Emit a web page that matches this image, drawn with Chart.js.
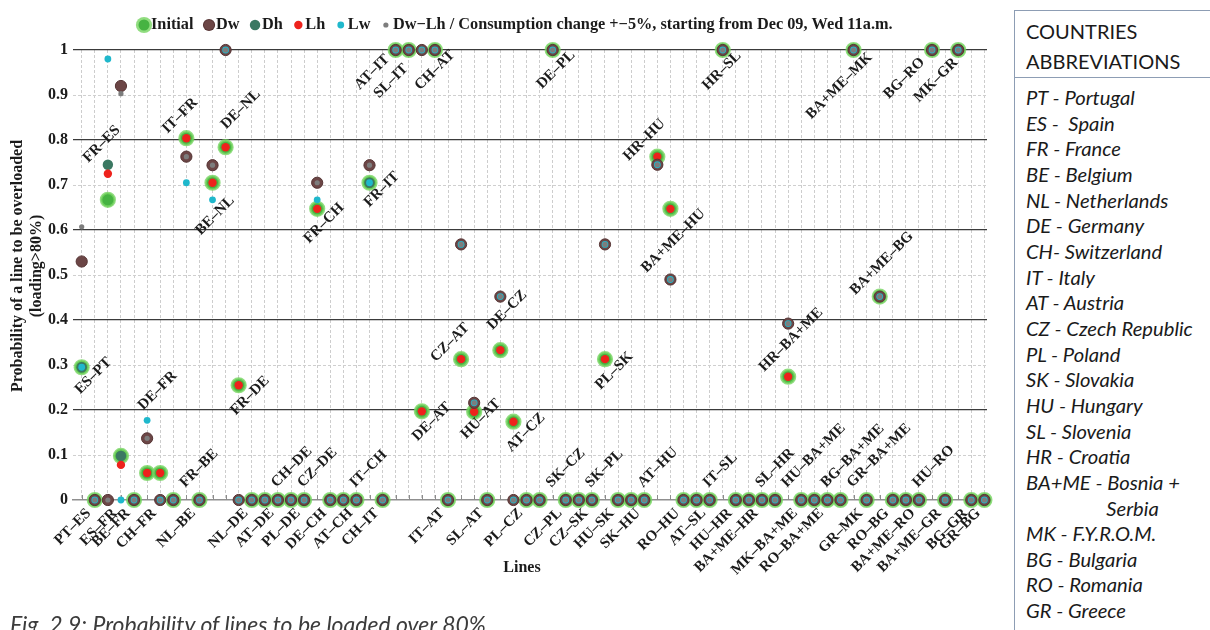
<!DOCTYPE html>
<html>
<head>
<meta charset="utf-8">
<script src="https://cdn.jsdelivr.net/npm/chart.js@4.4.1/dist/chart.umd.min.js"></script>
<style>
  html, body { margin: 0; padding: 0; background: #fff; width: 1210px; height: 630px; overflow: hidden; }
  #plot { position: absolute; left: 0; top: 0; }
  #caption { position: absolute; left: 10px; top: 613px; font: italic 23px Lato, sans-serif; line-height: 23px; color: #3c3c3c; white-space: nowrap; }
  #panel { position: absolute; left: 1014px; top: 10px; width: 200px; height: 630px; border-left: 1.5px solid #8d9db4; border-top: 1.5px solid #8d9db4; font-family: Lato, sans-serif; color: #1a1a1a; }
  #head { position: absolute; left: 0; top: 0; width: 100%; height: 66px; border-bottom: 1.5px solid #8d9db4; }
  #head div { position: absolute; left: 11px; font-size: 20px; line-height: 30px; }
  #list { position: absolute; left: 11px; top: 74px; font-style: italic; font-size: 20.2px; line-height: 25.65px; white-space: pre; }
</style>
</head>
<body>
<canvas id="plot" width="1005" height="630"></canvas>
<div id="caption">Fig. 2.9: Probability of lines to be loaded over 80%</div>
<div id="panel">
  <div id="head"><div style="top:5px">COUNTRIES</div><div style="top:35px">ABBREVIATIONS</div></div>
  <div id="list"></div>
</div>
<script>
// Interconnection lines, in plotting order along the x axis
const categories = ['ES–PT','PT–ES','FR–ES','ES–FR','BE–FR','DE–FR','CH–FR','FR–BE','IT–FR','NL–BE',
  'BE–NL','DE–NL','FR–DE','NL–DE','CH–DE','AT–DE','CZ–DE','PL–DE','FR–CH','DE–CH',
  'IT–CH','AT–CH','FR–IT','CH–IT','AT–IT','SL–IT','DE–AT','CH–AT','IT–AT','CZ–AT',
  'HU–AT','SL–AT','DE–CZ','AT–CZ','PL–CZ','SK–CZ','DE–PL','CZ–PL','SK–PL','CZ–SK',
  'PL–SK','HU–SK','AT–HU','SK–HU','HR–HU','BA+ME–HU','RO–HU','IT–SL','AT–SL','HR–SL',
  'HU–HR','SL–HR','BA+ME–HR','HU–BA+ME','HR–BA+ME','MK–BA+ME','BG–BA+ME','RO–BA+ME','GR–BA+ME','BA+ME–MK',
  'GR–MK','BA+ME–BG','RO–BG','HU–RO','BA+ME–RO','BG–RO','BA+ME–GR','MK–GR','BG–GR','GR–BG'];

// Probability of loading > 80% for each scenario
const initial = [0.295,0,0.667,0.098,0,0.06,0.06,0,0.804,0,
  0.705,0.784,0.255,0,0,0,0,0,0.647,0,
  0,0,0.705,0,1,1,0.197,1,0,0.313,
  0.196,0,0.333,0.174,0,0,1,0,0,0,
  0.313,0,0,0,0.763,0.647,0,0,0,1,
  0,0,0,0,0.274,0,0,0,0,1,
  0,0.452,0,0,0,1,0,1,0,0];
const dw = [0.53,0,0,0.92,0,0.137,0,0,0.763,0,
  0.744,1,0,0,0,0,0,0,0.705,0,
  0,0,0.744,0,1,1,1,1,0,0.568,
  0.216,0,0.452,0,0,0,1,0,0,0,
  0.568,0,0,0,0.745,0.49,0,0,0,1,
  0,0,0,0,0.392,0,0,0,0,1,
  0,0.452,0,0,0,1,0,1,0,0];
const dh = [0.295,0,0.745,0.098,0,0.137,0,0,0.763,0,
  0.744,1,0,0,0,0,0,0,0.705,0,
  0,0,0.705,0,1,1,1,1,0,0.568,
  0.216,0,0.452,0,0,0,1,0,0,0,
  0.568,0,0,0,0.745,0.49,0,0,0,1,
  0,0,0,0,0.392,0,0,0,0,1,
  0,0.452,0,0,0,1,0,1,0,0];
const lh = [0.53,0,0.725,0.078,0,0.06,0.06,0,0.804,0,
  0.705,0.784,0.255,0,0,0,0,0,0.647,0,
  0,0,0.744,0,1,1,0.197,1,0,0.313,
  0.196,0,0.333,0.174,0,0,1,0,0,0,
  0.313,0,0,0,0.763,0.647,0,0,0,1,
  0,0,0,0,0.274,0,0,0,0,1,
  0,0.452,0,0,0,1,0,1,0,0];
const lw = [0.295,0,0.98,0,0,0.177,0,0,0.705,0,
  0.667,1,0,0,0,0,0,0,0.667,0,
  0,0,0.705,0,1,1,1,1,0,0.568,
  0.216,0,0.452,0,0,0,1,0,0,0,
  0.568,0,0,0,0.745,0.49,0,0,0,1,
  0,0,0,0,0.392,0,0,0,0,1,
  0,0.452,0,0,0,1,0,1,0,0];
const dwLh = [0.607,0,0,0.903,0,0.137,0,0,0.763,0,
  0.744,1,0,0,0,0,0,0,0.705,0,
  0,0,0.744,0,1,1,1,1,0,0.568,
  0.216,0,0.452,0,0,0,1,0,0,0,
  0.568,0,0,0,0.745,0.49,0,0,0,1,
  0,0,0,0,0.392,0,0,0,0,1,
  0,0.452,0,0,0,1,0,1,0,0];

const yTicks = [0,0.1,0.2,0.3,0.4,0.5,0.6,0.7,0.8,0.9,1];
const legendNote = ' / Consumption change +−5%, starting from Dec 09, Wed 11a.m.';

const countries = ['PT - Portugal','ES -  Spain','FR - France','BE - Belgium','NL - Netherlands','DE - Germany',
  'CH- Switzerland','IT - Italy','AT - Austria','CZ - Czech Republic','PL - Poland','SK - Slovakia',
  'HU - Hungary','SL - Slovenia','HR - Croatia','BA+ME - Bosnia +','                 Serbia','MK - F.Y.R.O.M.',
  'BG - Bulgaria','RO - Romania','GR - Greece'];

// Where each line name is written: under the axis (b), above the axis (t) or next to its markers (p)
const labelSide = ['p','b','p','b','b','p','b','t','p','b',
  'p','p','p','b','t','b','t','b','p','b',
  't','b','p','b','p','p','p','p','b','p',
  'p','b','p','p','b','t','p','b','t','b',
  'p','b','t','b','p','p','b','t','b','p',
  'b','t','b','t','p','b','t','b','t','p',
  'b','p','b','t','b','p','b','p','b','b'];
// Centre of the rotated name for the lines labelled beside their markers, in axis units
const nameAt = {
  'ES–PT':[0.89,0.276], 'FR–ES':[1.53,0.791], 'DE–FR':[5.8,0.243], 'IT–FR':[7.52,0.854],
  'BE–NL':[10.19,0.632], 'DE–NL':[12.16,0.868], 'FR–DE':[12.87,0.232], 'FR–CH':[18.52,0.615],
  'FR–IT':[22.94,0.69], 'AT–IT':[22.2,0.951], 'SL–IT':[23.65,0.931], 'DE–AT':[26.76,0.174],
  'CH–AT':[27.0,0.955], 'CZ–AT':[28.16,0.35], 'HU–AT':[30.51,0.18], 'DE–CZ':[32.52,0.422],
  'AT–CZ':[33.95,0.15], 'DE–PL':[36.25,0.956], 'PL–SK':[40.71,0.287], 'HR–HU':[43.0,0.8],
  'BA+ME–HU':[45.23,0.576], 'HR–SL':[48.93,0.954], 'HR–BA+ME':[54.23,0.356], 'BA+ME–MK':[57.91,0.92],
  'BA+ME–BG':[61.16,0.526], 'BG–RO':[62.88,0.937], 'MK–GR':[65.3,0.933]
};

document.getElementById('list').textContent = countries.join('\n');

const serif = '"Liberation Serif", "Times New Roman", serif';
const pts = arr => arr.map((v, i) => ({x: i, y: v})).filter(p => p.y !== null);

const series = [
  {label: 'Dw−Lh', data: dwLh, order: 0, pointRadius: 2.6, backgroundColor: '#7d7d7d', borderWidth: 0},
  {label: 'Lw', data: lw, order: 1, pointRadius: 3.4, backgroundColor: '#1fb8cc', borderWidth: 0},
  {label: 'Dw', data: dw, order: 2, pointRadius: 5.6, backgroundColor: '#6c4646', borderColor: '#563434', borderWidth: 1},
  {label: 'Lh', data: lh, order: 3, pointRadius: 4.2, backgroundColor: '#ee221c', borderWidth: 0},
  {label: 'Dh', data: dh, order: 4, pointRadius: 5.2, backgroundColor: '#3b7862', borderWidth: 0},
  {label: 'Initial', data: initial, order: 5, pointRadius: 6.8, backgroundColor: '#46b342', borderColor: 'rgba(118,212,96,0.8)', borderWidth: 2.6}
];
const legendOrder = ['Initial','Dw','Dh','Lh','Lw','Dw−Lh'];

const datasets = series.map(s => ({
  label: s.label,
  data: pts(s.data),
  order: s.order,
  showLine: false,
  clip: false,
  pointRadius: s.pointRadius,
  pointHoverRadius: s.pointRadius,
  pointBackgroundColor: s.backgroundColor,
  pointBorderColor: s.borderColor || s.backgroundColor,
  pointBorderWidth: s.borderWidth,
  backgroundColor: s.backgroundColor,
  borderColor: s.borderColor || s.backgroundColor
}));

const decorations = {
  id: 'decorations',
  beforeDatasetsDraw(chart) {
    const {ctx, scales: {x, y}} = chart;
    ctx.save();
    ctx.strokeStyle = '#8c8c8c';
    ctx.lineWidth = 1;
    categories.forEach((_, i) => {
      const px = Math.round(x.getPixelForValue(i)) + 0.5;
      ctx.beginPath();
      ctx.moveTo(px, y.bottom);
      ctx.lineTo(px, y.bottom - 5);
      ctx.stroke();
    });
    ctx.restore();
  },
  afterDatasetsDraw(chart) {
    const {ctx, scales: {x, y}} = chart;
    ctx.save();
    ctx.font = 'bold 15px ' + serif;
    ctx.fillStyle = '#1b1b1b';
    ctx.textBaseline = 'middle';
    categories.forEach((name, i) => {
      const side = labelSide[i];
      const px = x.getPixelForValue(i);
      ctx.save();
      if (side === 'b') {
        ctx.translate(px - 6, y.bottom + 11);
        ctx.rotate(-Math.PI / 4);
        ctx.textAlign = 'right';
      } else if (side === 't') {
        ctx.translate(px + 9, y.bottom - 15);
        ctx.rotate(-Math.PI / 4);
        ctx.textAlign = 'left';
      } else {
        const p = nameAt[name];
        ctx.translate(x.getPixelForValue(p[0]), y.getPixelForValue(p[1]));
        ctx.rotate(-Math.PI / 4);
        ctx.textAlign = 'center';
      }
      ctx.fillText(name, 0, 0);
      ctx.restore();
    });
    ctx.restore();
  },
  afterDraw(chart) {
    const {ctx} = chart;
    ctx.save();
    // axis titles
    ctx.fillStyle = '#1b1b1b';
    ctx.font = 'bold 16px ' + serif;
    ctx.textAlign = 'center';
    ctx.textBaseline = 'middle';
    ctx.fillText('Lines', 522, 568);
    ctx.save();
    ctx.translate(18, 266);
    ctx.rotate(-Math.PI / 2);
    ctx.fillText('Probability of a line to be overloaded', 0, 0);
    ctx.fillText('(loading>80%)', 0, 19);
    ctx.restore();

    // legend across the top
    ctx.font = 'bold 16.3px ' + serif;
    let cx = 144;
    const ly = 25;
    ctx.textAlign = 'left';
    legendOrder.forEach((lab, k) => {
      const ds = chart.data.datasets.find(d => d.label === lab);
      ctx.beginPath();
      ctx.arc(cx, ly, ds.pointRadius + (ds.pointBorderWidth || 0) / 2, 0, Math.PI * 2);
      ctx.fillStyle = ds.pointBorderWidth ? ds.pointBorderColor : ds.pointBackgroundColor;
      ctx.fill();
      if (ds.pointBorderWidth) {
        ctx.beginPath();
        ctx.arc(cx, ly, ds.pointRadius - (ds.pointBorderWidth) / 2, 0, Math.PI * 2);
        ctx.fillStyle = ds.pointBackgroundColor;
        ctx.fill();
      }
      const text = k === legendOrder.length - 1 ? lab + legendNote : lab;
      ctx.fillStyle = '#1b1b1b';
      const tx = cx + 7;
      ctx.fillText(text, tx, ly);
      cx = tx + ctx.measureText(text).width + 15.5;
    });
    ctx.restore();
  }
};

new Chart(document.getElementById('plot'), {
  type: 'scatter',
  data: {datasets},
  options: {
    responsive: false,
    animation: false,
    events: [],
    layout: {padding: {top: 50, right: 18, bottom: 0, left: 0}},
    plugins: {legend: {display: false}, tooltip: {enabled: false}},
    scales: {
      x: {
        type: 'linear',
        min: -0.665,
        max: 69.2,
        afterFit: s => { s.height = 130; },
        ticks: {display: false, stepSize: 1, includeBounds: false},
        grid: {color: '#cdcdcd', lineWidth: 1, drawTicks: false},
        border: {display: true, color: '#8f8f8f', width: 1.6, dash: [3, 2]}
      },
      y: {
        min: 0,
        max: 1,
        afterFit: s => { s.width = 73; },
        afterBuildTicks: s => { s.ticks = yTicks.map(v => ({value: v})); },
        ticks: {
          padding: 5,
          color: '#1b1b1b',
          font: {family: serif, size: 16, weight: 'bold'},
          callback: v => (v === 0 || v === 1) ? String(v) : v.toFixed(1)
        },
        grid: {
          drawTicks: false,
          lineWidth: 1.2,
          color: c => {
            const k = Math.round(c.tick.value * 10);
            return (k > 0 && k % 2 === 0) ? '#3a3a3a' : 'rgba(0,0,0,0)';
          }
        },
        border: {display: false}
      },
      y2: {
        position: 'left',
        min: 0,
        max: 1,
        afterFit: s => { s.width = 0; },
        afterBuildTicks: s => { s.ticks = yTicks.map(v => ({value: v})); },
        ticks: {display: false},
        grid: {
          drawTicks: false,
          lineWidth: 1,
          color: c => (Math.round(c.tick.value * 10) % 2 === 1) ? '#cfcfcf' : 'rgba(0,0,0,0)'
        },
        border: {display: false, dash: [3, 2]}
      }
    }
  },
  plugins: [decorations]
});
</script>
</body>
</html>
